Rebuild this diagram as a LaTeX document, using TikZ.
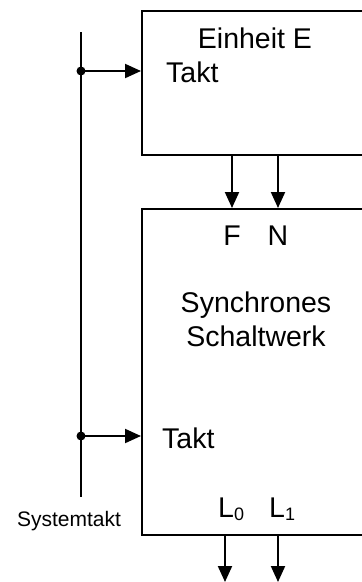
\documentclass[tikz,border=0pt]{standalone}
\usepackage{fontspec}
\setmainfont{Liberation Sans}
\usetikzlibrary{arrows.meta}
\tikzset{
  ln/.style={line width=2pt},
  arr/.style={ln,-{Triangle[length=16pt,width=14pt]}},
  box/.style={draw,line width=2pt,inner sep=0pt},
  txt/.style={inner sep=0pt,font=\fontsize{28.5}{34}\selectfont},
  small/.style={inner sep=0pt,font=\fontsize{21}{25}\selectfont},
  dot/.style={circle,fill,inner sep=0pt,minimum size=9pt}
}
\begin{document}
\begin{tikzpicture}[x=1pt,y=-1pt]
\useasboundingbox (0,0) rectangle (362,582);
\clip (0,0) rectangle (362,582);
% boxes
\node[box,minimum width=239pt,minimum height=144.5pt,anchor=north west] (E) at (141,9.5) {};
\node[box,minimum width=239pt,minimum height=326pt,anchor=north west] (S) at (141,208) {};
% texts
\node[txt,anchor=base] (tE) at (255,48) {Einheit E};
\node[txt,anchor=base west] (tT1) at (166,82) {Takt};
\node[txt,anchor=base] (tF) at (232,245) {F};
\node[txt,anchor=base] (tN) at (278,245) {N};
\node[txt,anchor=base] (tS1) at (256,312) {Synchrones};
\node[txt,anchor=base] (tS2) at (256,346) {Schaltwerk};
\node[txt,anchor=base west] (tT2) at (162,448) {Takt};
\node[txt,anchor=base west] (tL0) at (218,517) {L\raisebox{-3.5pt}{\fontsize{18}{18}\selectfont 0}};
\node[txt,anchor=base west] (tL1) at (269,517) {L\raisebox{-3.5pt}{\fontsize{18}{18}\selectfont 1}};
\node[small,anchor=base] (sys) at (69,526) {Systemtakt};
% clock line
\coordinate (c1) at (81,32);
\coordinate (c2) at (81,497);
\draw[ln] (c1) -- (c2);
\node[dot] (d1) at (81,71) {};
\node[dot] (d2) at (81,436) {};
\draw[arr] (d1.center) -- (d1.center -| E.west);
\draw[arr] (d2.center) -- (d2.center -| S.west);
% arrows between boxes
\coordinate (aF) at (232,154);
\coordinate (aN) at (278,154);
\draw[arr] (aF) -- (aF |- S.north);
\draw[arr] (aN) -- (aN |- S.north);
% output arrows
\coordinate (o0) at (225,534);
\coordinate (o1) at (278,534);
\coordinate (p0) at (225,582);
\coordinate (p1) at (278,582);
\draw[arr] (o0) -- (p0);
\draw[arr] (o1) -- (p1);
\end{tikzpicture}
\end{document}
